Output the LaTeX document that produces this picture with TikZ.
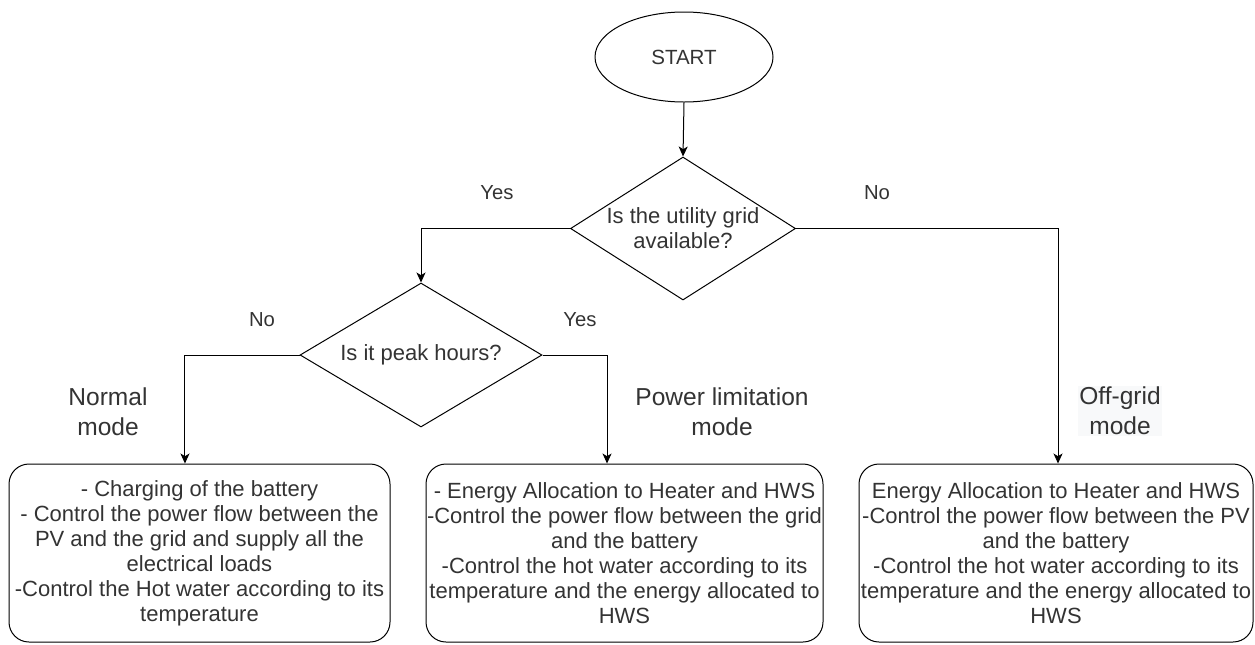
\documentclass[tikz,border=0pt]{standalone}
\usepackage{fontspec}
\setmainfont{Liberation Sans}
\usetikzlibrary{shapes.geometric,arrows.meta}
\definecolor{txtc}{HTML}{333333}
\definecolor{lblbg}{HTML}{F8F9FA}
\begin{document}
\begin{tikzpicture}[x=0.75pt,y=-0.75pt,
  every node/.style={text=txtc, font=\fontsize{16.5pt}{18.75pt}\selectfont, align=center},
  startnode/.style={ellipse, draw=black, line width=0.75pt, minimum width=133.5pt, minimum height=67.5pt, inner sep=0pt, font=\fontsize{15.4pt}{18pt}\selectfont},
  decision/.style={diamond, draw=black, line width=0.75pt, inner sep=0pt},
  modebox/.style={draw=black, line width=0.75pt, rounded corners=15pt, minimum height=133.5pt, inner sep=0pt},
  modelbl/.style={font=\fontsize{18.4pt}{22.5pt}\selectfont, inner sep=1pt},
  yn/.style={font=\fontsize{15.2pt}{18pt}\selectfont, inner sep=0pt},
  flow/.style={draw=black, line width=0.75pt, -{Stealth[length=7.5pt,width=6.75pt,inset=2pt]}}
]
\useasboundingbox (0,0) rectangle (1255,644);

\node[startnode] (start) at (684,57) {START};

\node[decision, minimum width=168.75pt, minimum height=107.25pt] (d1) at (683,228.5) {};
\node (d1t) at (d1.center) {Is the utility grid\\available?};

\node[decision, minimum width=181.5pt, minimum height=108pt] (d2) at (421,355) {};
\node (d2t) at (d2.center) {Is it peak hours?};

\node[modebox, minimum width=285.75pt] (b1) at (199.5,553)
  {- Charging of the battery\\- Control the power flow between the\\PV and the grid and supply all the\\electrical loads\\-Control the Hot water according to its\\temperature};
\node[modebox, minimum width=297.75pt] (b2) at (624.5,553)
  {- Energy Allocation to Heater and HWS\\-Control the power flow between the grid\\and the battery\\-Control the hot water according to its\\temperature and the energy allocated to\\HWS};
\node[modebox, minimum width=295.5pt] (b3) at (1056,553)
  {Energy Allocation to Heater and HWS\\-Control the power flow between the PV\\and the battery\\-Control the hot water according to its\\temperature and the energy allocated to\\HWS};

\draw[flow] (start.south) -- (d1.north);
\draw[flow] (d1.west) -| (d2.north);
\draw[flow] (d1.east) -| ([xshift=1.5pt]b3.north);
\draw[flow] (d2.west) -| ([xshift=-10.9pt]b1.north);
\draw[flow] (d2.east) -| ([xshift=-13.1pt]b2.north);

\node[yn] (y1) at (497,193) {Yes};
\node[yn] (n1) at (877,193) {No};
\node[yn] (n2) at (262,320) {No};
\node[yn] (y2) at (580,320) {Yes};

\node[modelbl] (l1) at (108,412) {Normal\\mode};
\node[modelbl] (l2) at (722,412) {Power limitation\\mode};
\node[modelbl, fill=lblbg] (l3) at (1120,411) {Off-grid\\mode};
\end{tikzpicture}
\end{document}
